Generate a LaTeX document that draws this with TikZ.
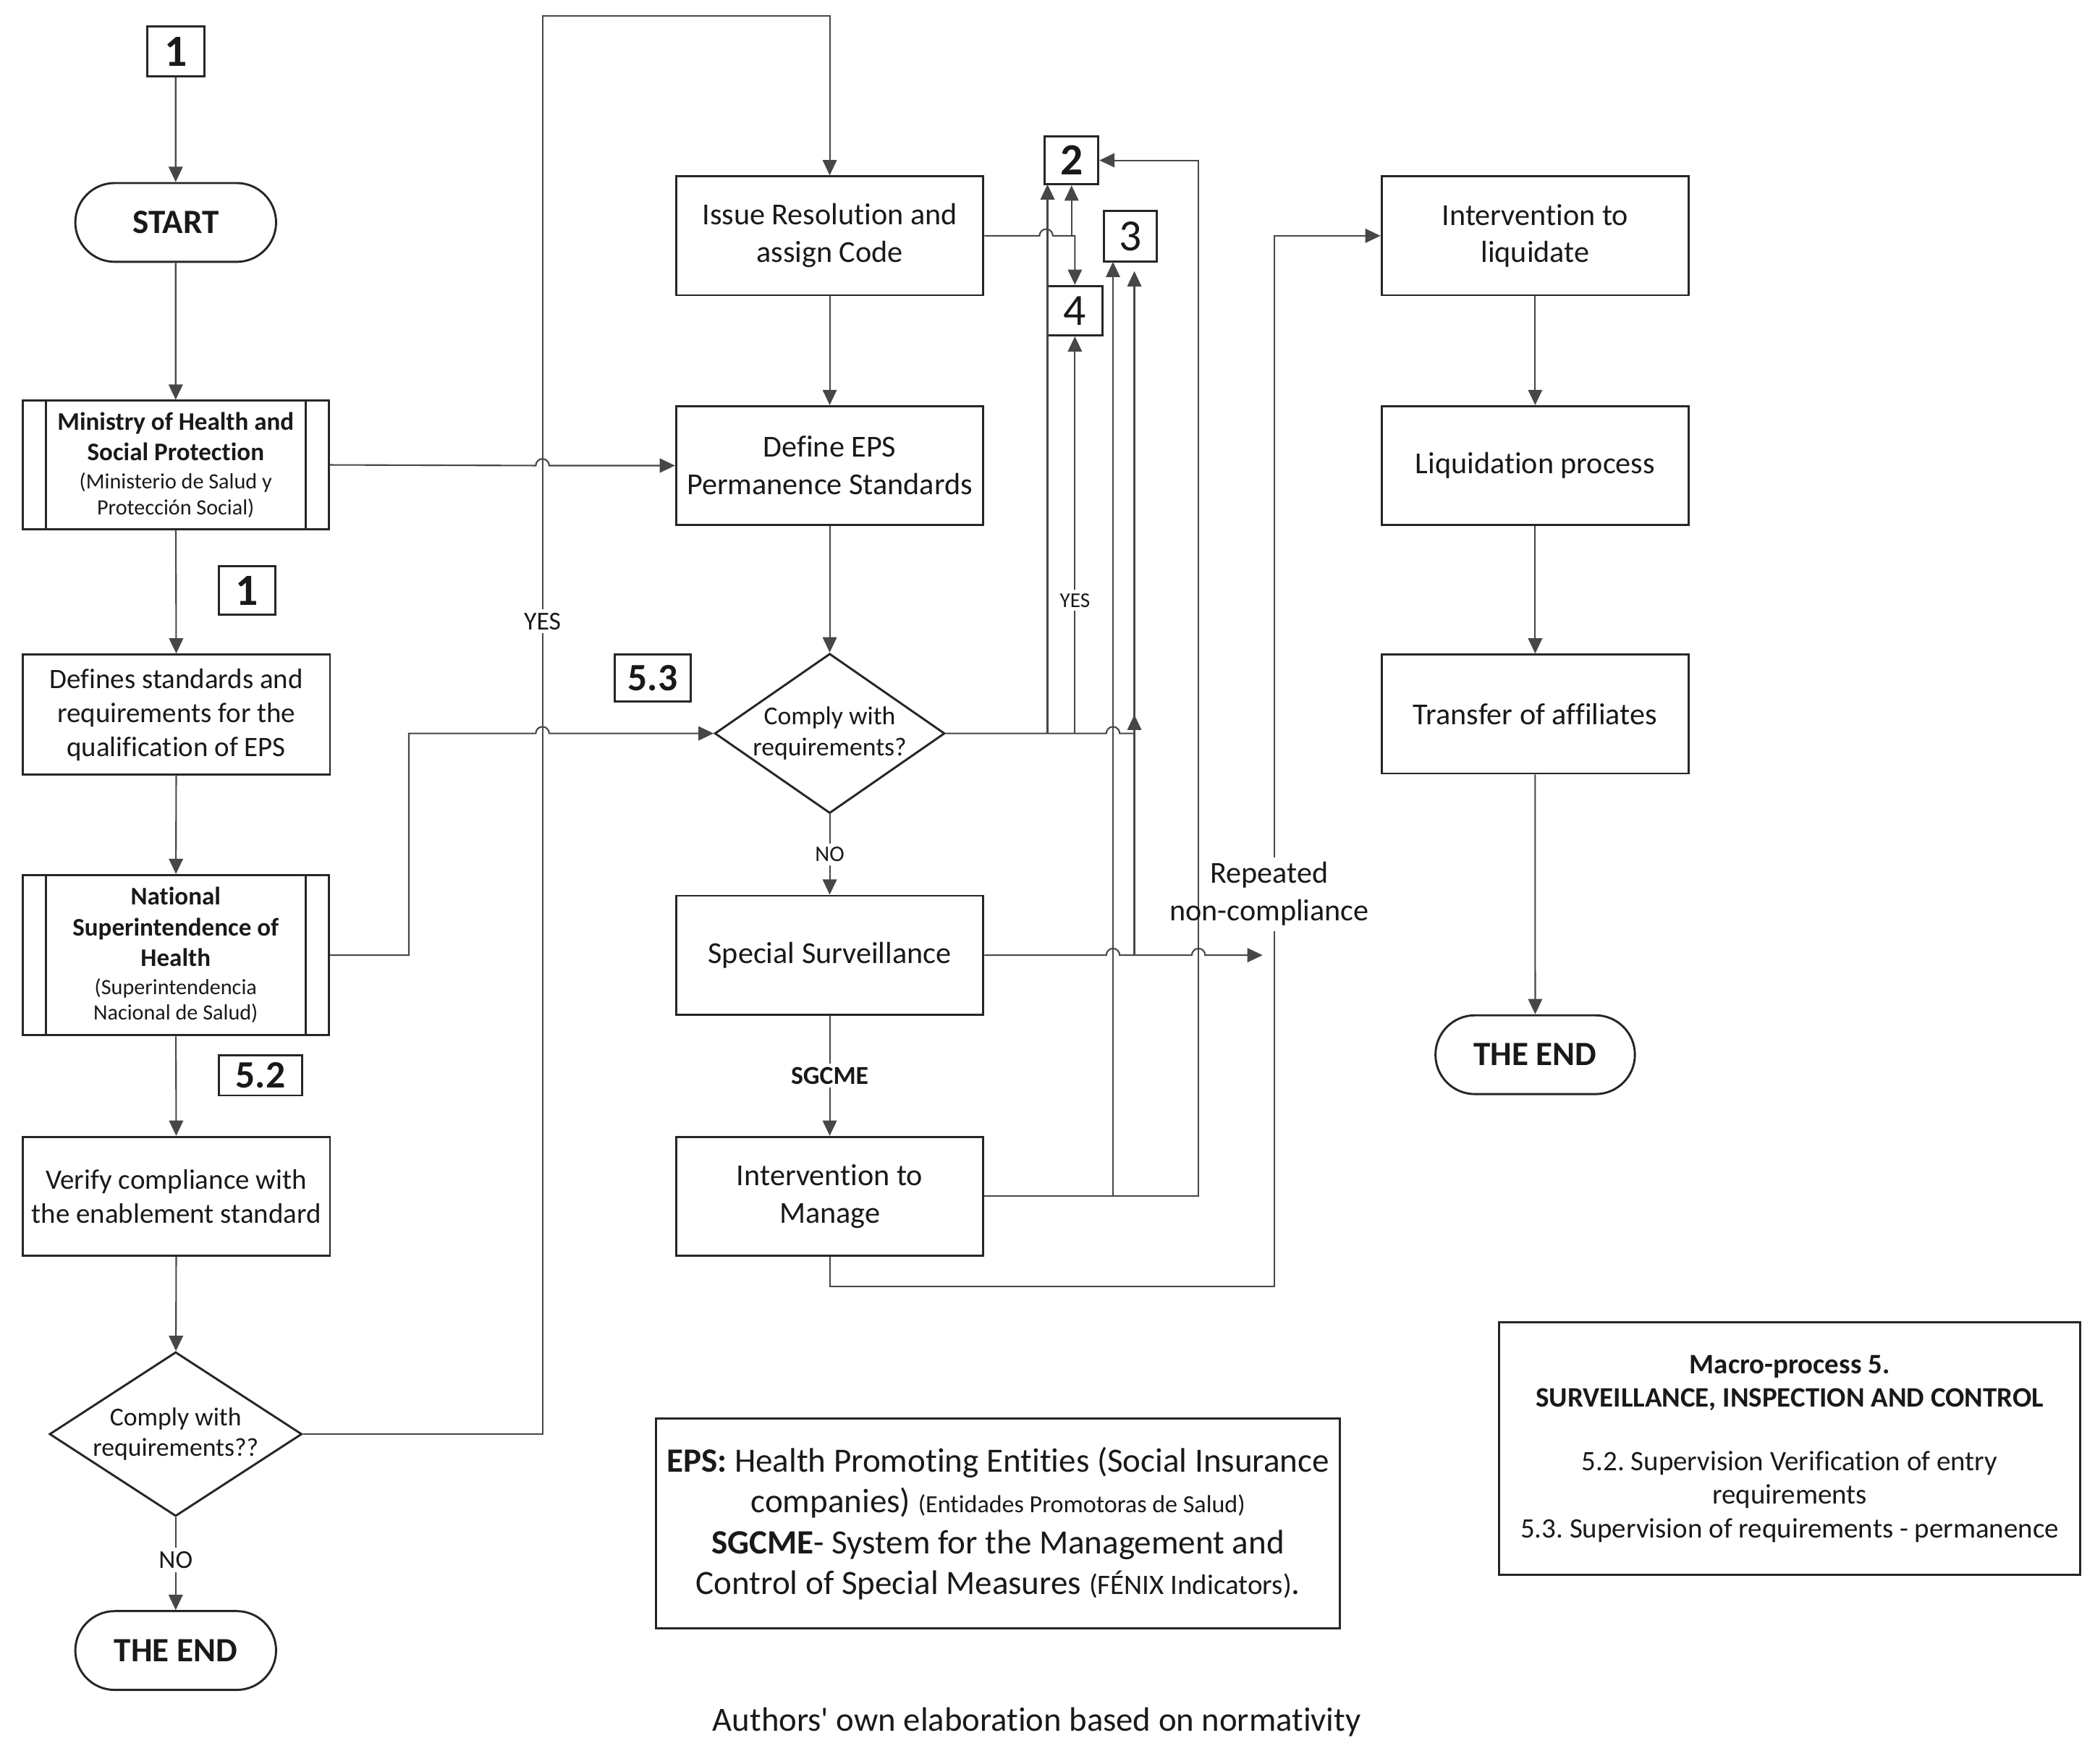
\documentclass[tikz,border=0pt]{standalone}
\usepackage{fontspec}
\setmainfont{Carlito}[Ligatures={NoCommon}]
\newfontfamily\capfont{Carlito}[Ligatures={NoCommon}]
\usetikzlibrary{shapes.geometric,shapes.misc,arrows.meta,calc}
\frenchspacing
\begin{document}
\begin{tikzpicture}[x=0.02cm,y=-0.02cm]
\tikzset{
  ln/.style={draw=black!72, line width=0.65pt},
  arr/.style={ln, -{Triangle[length=6.5pt,width=6pt]}},
  frame/.style={draw=black!85, line width=0.9pt},
  box/.style={frame, rectangle, minimum width=4.6cm, minimum height=1.78cm, align=center, inner sep=1pt, text=black!90, font=\fontsize{13}{16}\selectfont},
  boxs/.style={box, font=\fontsize{12}{14.5}\selectfont},
  pbox/.style={frame, rectangle, minimum width=4.58cm, align=center, inner sep=1pt, text=black!90, font=\fontsize{10.8}{13}\selectfont},
  pill/.style={frame, rounded rectangle, minimum width=3.24cm, minimum height=1.18cm, text=black!90, font=\fontsize{14.5}{17}\selectfont\bfseries},
  dia/.style={frame, diamond, inner sep=0pt, align=center, text=black!90, font=\fontsize{11}{13.2}\selectfont},
  tag/.style={frame, rectangle, inner sep=0pt, text=black!90, font=\fontsize{19}{20}\selectfont},
  tagb/.style={tag, font=\fontsize{19}{20}\selectfont\bfseries},
  tagc/.style={tag, font=\fontsize{16.5}{18}\selectfont\bfseries},
  lbl/.style={fill=white, inner sep=1.5pt, text=black!90, font=\fontsize{11}{13}\selectfont}
}
\useasboundingbox (0,0) rectangle (1568,1320);

% ---------- left column ----------
\node[tagb, minimum width=0.86cm, minimum height=0.74cm] (b1) at (131.5,38.5) {1};
\node[pill] (start) at (131.5,166.5) {START};
\node[pbox, minimum height=1.92cm] (min) at (131.5,348)
  {{\bfseries Ministry of Health and}\\{\bfseries Social Protection}\\[-1pt]
   {\fontsize{9.3}{11}\selectfont (Ministerio de Salud y}\\[-2pt]
   {\fontsize{9.3}{11}\selectfont Protección Social)}};
\draw[frame] ([xshift=0.36cm]min.north west) -- ([xshift=0.36cm]min.south west);
\draw[frame] ([xshift=-0.36cm]min.north east) -- ([xshift=-0.36cm]min.south east);
\node[tagb, minimum width=0.84cm, minimum height=0.72cm] (b1b) at (185,442) {1};
\node[boxs, minimum height=1.8cm] (defs) at (132,535) {Defines standards and\\requirements for the\\qualification of EPS};
\node[pbox, minimum height=2.4cm] (nat) at (131.5,715)
  {{\bfseries National}\\{\bfseries Superintendence of}\\{\bfseries Health}\\[-1pt]
   {\fontsize{9.3}{11}\selectfont (Superintendencia}\\[-2pt]
   {\fontsize{9.3}{11}\selectfont Nacional de Salud)}};
\draw[frame] ([xshift=0.36cm]nat.north west) -- ([xshift=0.36cm]nat.south west);
\draw[frame] ([xshift=-0.36cm]nat.north east) -- ([xshift=-0.36cm]nat.south east);
\node[tagc, minimum width=1.24cm, minimum height=0.6cm] (b52) at (195,805) {5.2};
\node[boxs] (ver) at (132,895.5) {Verify compliance with\\the enablement standard};
\node[dia, aspect=1.54, minimum width=3.78cm, minimum height=2.46cm] (dl) at (131.5,1073.5) {Comply with\\requirements??};
\node[pill] (end1) at (131.5,1235.5) {THE END};

% ---------- middle column ----------
\node[box] (issue) at (621,176.5) {Issue Resolution and\\assign Code};
\node[box] (defeps) at (621,348.5) {Define EPS\\Permanence Standards};
\node[dia, aspect=1.44, minimum width=3.4cm, minimum height=2.36cm] (dm) at (621,549) {Comply with\\requirements?};
\node[box] (ss) at (621,715) {Special Surveillance};
\node[box] (im) at (621,895.5) {Intervention to\\Manage};
\node[tagb, minimum width=0.8cm, minimum height=0.72cm] (b2) at (802,120) {2};
\node[tag, minimum width=0.8cm, minimum height=0.76cm] (b3) at (846,177) {3};
\node[tag, minimum width=0.82cm, minimum height=0.74cm] (b4) at (804.5,232.5) {4};
\node[tagc, minimum width=1.14cm, minimum height=0.7cm] (b53) at (488.5,507.5) {5.3};

% ---------- right column ----------
\node[box] (liq) at (1149,176.5) {Intervention to\\liquidate};
\node[box] (lp) at (1149,348.5) {Liquidation process};
\node[box] (ta) at (1149,534.5) {Transfer of affiliates};
\node[pill, minimum width=3.22cm] (end2) at (1149,789.5) {THE END};

% ---------- legend boxes ----------
\node[frame, minimum width=10.24cm, minimum height=3.14cm, align=center, inner sep=0pt, text=black!90,
      font=\fontsize{14.5}{17.4}\selectfont] (leg) at (747,1140.5)
  {\textbf{EPS:} Health Promoting Entities (Social Insurance\\
   companies) {\fontsize{10.5}{11}\selectfont (Entidades Promotoras de Salud)}\\
   \textbf{SGCME}- System for the Management and\\
   Control of Special Measures {\fontsize{12}{13}\selectfont (FÉNIX Indicators)}.};
\node[frame, minimum width=8.7cm, minimum height=3.78cm, align=center, inner sep=0pt, text=black!90,
      font=\fontsize{12}{14.2}\selectfont] (macro) at (1339.5,1084.5)
  {\textbf{Macro-process 5.}\\
   \textbf{SURVEILLANCE, INSPECTION AND CONTROL}\\[13pt]
   5.2. Supervision Verification of entry\\
   requirements\\
   5.3. Supervision of requirements - permanence};
\node[text=black!90, font=\capfont\fontsize{14.4}{17}\selectfont] (cap) at (776,1289) {Authors' own elaboration based on normativity};

% ---------- connectors ----------
\draw[arr] (b1) -- (start);
\draw[arr] (start) -- (min);
\draw[arr] (min) -- (defs);
\draw[arr] (defs) -- (nat);
\draw[arr] (nat) -- (ver);
\draw[arr] (ver) -- (dl);
\draw[arr] (dl.south) -- (end1.north) node[lbl, pos=0.46] {NO};
\coordinate (ytop) at (406,12);
\draw[arr] (dl.east) -| (ytop) -| (issue.north);
\node[lbl] (yes1) at (406,465) {YES};
% Ministry -> Define EPS (hop over x=406)
\draw[arr] (min.east) -- (401,348.5) arc[start angle=180,end angle=0,radius=0.1cm] -- (defeps.west);
% National -> middle diamond (hop over x=406)
\coordinate (natx) at (306,715);
\draw[arr] (nat.east) -- (natx) |- (401,549) arc[start angle=180,end angle=0,radius=0.1cm] -- (dm.west);
\draw[arr] (issue) -- (defeps);
\draw[arr] (defeps) -- (dm);
\draw[arr] (dm.south) -- (ss.north) node[lbl, pos=0.5, font=\fontsize{9.5}{11}\selectfont] {NO};
\draw[arr] (ss) -- (im) node[lbl, pos=0.5, font=\fontsize{11}{13}\selectfont\bfseries] {SGCME};
% Issue -> 4 and 2
\draw[arr] (issue.east) -- (778,176.5) arc[start angle=180,end angle=0,radius=0.1cm] -- (b4.north |- issue.east) -- (b4.north);
\draw[arr] (802,176.5) -- (b2.south);
% middle diamond YES -> 2, 4, 3
\draw[ln] (dm.east) -- (828,549) arc[start angle=180,end angle=0,radius=0.1cm] -- (849,549);
\draw[arr] (784,549) -- (784,138);
\draw[arr] (b4.south |- dm.east) -- (b4.south) node[lbl, pos=0.335, font=\fontsize{9}{10}\selectfont] {YES};
\draw[arr] (849,553) -- (849,535);
% Special Surveillance -> right
\draw[arr] (ss.east) -- (828,715) arc[start angle=180,end angle=0,radius=0.1cm] -- (892,715) arc[start angle=180,end angle=0,radius=0.1cm] -- (945,715);
\draw[arr] (849,715) -- (849,203);
% Intervention to Manage -> 3 and 2
\draw[arr] (im.east) -- (833,895.5) -- (833,196);
\draw[arr] (833,895.5) -- (897,895.5) -- (897,120) -- (b2.east);
% Intervention to Manage -> Intervention to liquidate
\draw[arr] (im.south) -- (621,963) -| (954,697) (954,642) |- (liq.west);
\node[text=black!90, align=center, font=\fontsize{13}{16}\selectfont] (rep) at (950,669) {Repeated\\non-compliance};
% right column
\draw[arr] (liq) -- (lp);
\draw[arr] (lp) -- (ta);
\draw[arr] (ta) -- (end2);
\end{tikzpicture}
\end{document}
